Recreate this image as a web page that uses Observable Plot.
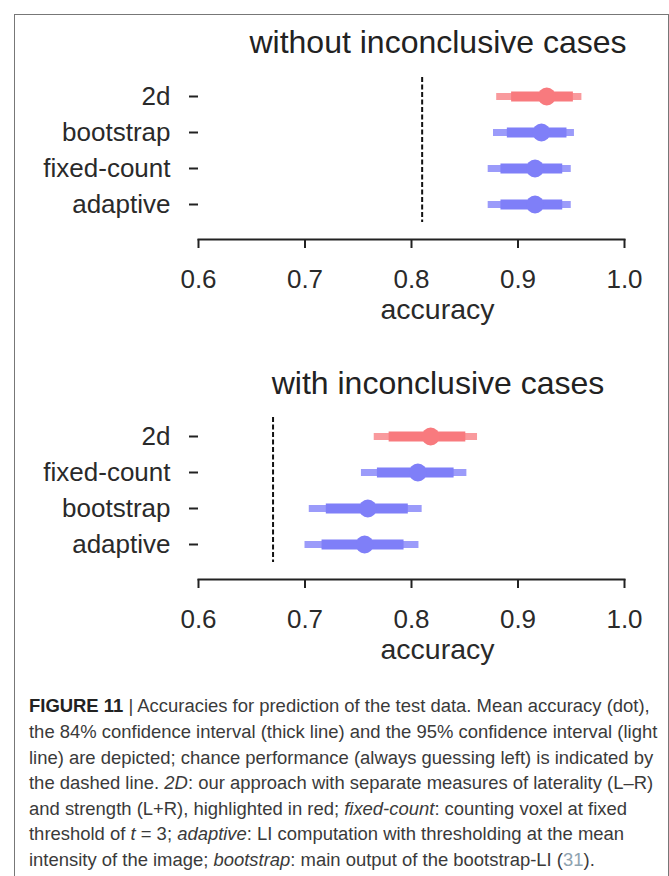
<!DOCTYPE html>
<html>
<head>
<meta charset="utf-8">
<script src="https://cdn.jsdelivr.net/npm/d3@7"></script>
<script src="https://cdn.jsdelivr.net/npm/@observablehq/plot@0.6"></script>
<style>
  html, body { margin: 0; padding: 0; background: #fff; }
  body { width: 669px; height: 876px; position: relative; overflow: hidden; font-family: "Liberation Sans", Arial, sans-serif; }
  #box { position: absolute; left: 14px; top: 14px; width: 655px; height: 900px; border: 1px solid #777; box-sizing: border-box; }
  .panel { position: absolute; left: 0; width: 669px; height: 340px; }
  .ptitle { position: absolute; left: 238px; width: 400px; text-align: center; font-size: 32px; color: #222; line-height: 1; white-space: nowrap; }
  .cap { position: absolute; left: 29px; white-space: nowrap; color: #3a3a3a; line-height: 1; }
  .cap b { color: #222; }
  .ref { color: #8fa3b0; }
</style>
</head>
<body>
<div id="box"></div>
<div class="panel" id="p1" style="top:0"></div>
<div class="panel" id="p2" style="top:340px"></div>
<div class="ptitle" style="top:26px">without inconclusive cases</div>
<div class="ptitle" style="top:367px">with inconclusive cases</div>
<div id="caption"></div>
<script>
// ---- data ----
const xTicks = [0.6, 0.7, 0.8, 0.9, 1.0];

// panel 1: without inconclusive cases
const rowsTop = ["2d", "bootstrap", "fixed-count", "adaptive"];
const meanTop = [0.927, 0.922, 0.916, 0.916];
const lo84Top = [0.894, 0.890, 0.884, 0.884];
const hi84Top = [0.952, 0.946, 0.942, 0.942];
const lo95Top = [0.880, 0.877, 0.872, 0.872];
const hi95Top = [0.960, 0.953, 0.950, 0.950];
const chanceTop = 0.81;

// panel 2: with inconclusive cases
const rowsBottom = ["2d", "fixed-count", "bootstrap", "adaptive"];
const meanBottom = [0.818, 0.806, 0.759, 0.756];
const lo84Bottom = [0.779, 0.768, 0.720, 0.716];
const hi84Bottom = [0.851, 0.840, 0.797, 0.793];
const lo95Bottom = [0.765, 0.753, 0.704, 0.700];
const hi95Bottom = [0.862, 0.852, 0.810, 0.807];
const chanceBottom = 0.67;

const highlight = "2d";
const strong = {hi: "#f87a7e", lo: "#7f7ff8"};
const light = {hi: "#f99a9d", lo: "#9b9bfa"};

function panel(rows, mean, lo84, hi84, lo95, hi95, chance) {
  const data = rows.map((name, i) => ({
    name, mean: mean[i], lo84: lo84[i], hi84: hi84[i], lo95: lo95[i], hi95: hi95[i],
    c: name === highlight ? strong.hi : strong.lo,
    l: name === highlight ? light.hi : light.lo
  }));
  return Plot.plot({
    width: 669,
    height: 340,
    marginTop: 77,
    marginBottom: 101,
    marginLeft: 198,
    marginRight: 45,
    style: {fontFamily: "'Liberation Sans', Arial, sans-serif", color: "#222", background: "transparent", overflow: "visible"},
    x: {domain: [0.6, 1.0]},
    y: {type: "band", domain: rows, padding: 0, insetBottom: 17},
    color: {type: "identity"},
    marks: [
      Plot.frame({anchor: "bottom", stroke: "#222", strokeWidth: 2}),
      Plot.axisX({ticks: xTicks, tickFormat: d3.format(".1f"), tickSize: 9, tickPadding: 21, fontSize: 26, strokeWidth: 2, fill: "#2a2a2a", label: null}),
      Plot.axisY({tickSize: 9, tickPadding: 19, fontSize: 26, strokeWidth: 2, fill: "#2a2a2a", label: null}),
      Plot.ruleX([chance], {stroke: "#111", strokeWidth: 2, strokeDasharray: "5,2.5", insetBottom: 17}),
      Plot.ruleY(data, {y: "name", x1: "lo95", x2: "hi95", stroke: "l", strokeWidth: 7}),
      Plot.ruleY(data, {y: "name", x1: "lo84", x2: "hi84", stroke: "c", strokeWidth: 10}),
      Plot.dot(data, {x: "mean", y: "name", r: 9, fill: "c", stroke: null}),
      Plot.text(["accuracy"], {text: d => d, frameAnchor: "bottom", lineAnchor: "middle", dy: 70, dx: 26, fontSize: 28.5, fill: "#2a2a2a"})
    ]
  });
}

document.getElementById("p1").appendChild(panel(rowsTop, meanTop, lo84Top, hi84Top, lo95Top, hi95Top, chanceTop));
document.getElementById("p2").appendChild(panel(rowsBottom, meanBottom, lo84Bottom, hi84Bottom, lo95Bottom, hi95Bottom, chanceBottom));

// ---- caption ----
const captionLines = [
  "<b>FIGURE 11</b> | Accuracies for prediction of the test data. Mean accuracy (dot),",
  "the 84% confidence interval (thick line) and the 95% confidence interval (light",
  "line) are depicted; chance performance (always guessing left) is indicated by",
  "the dashed line. <i>2D</i>: our approach with separate measures of laterality (L–R)",
  "and strength (L+R), highlighted in red; <i>fixed-count</i>: counting voxel at fixed",
  "threshold of <i>t</i> = 3; <i>adaptive</i>: LI computation with thresholding at the mean",
  "intensity of the image; <i>bootstrap</i>: main output of the bootstrap-LI (<span class=\"ref\">31</span>)."
];
const cap = document.getElementById("caption");
const spans = captionLines.map((html, i) => {
  const s = document.createElement("div");
  s.className = "cap";
  s.innerHTML = html;
  s.style.fontSize = "16px";
  cap.appendChild(s);
  return s;
});
const w0 = spans[0].getBoundingClientRect().width;
const fs = 16 * 621 / w0;
spans.forEach((s, i) => {
  s.style.fontSize = fs + "px";
  s.style.top = (714 + i * 25.6 - 0.905 * fs) + "px";
});
</script>
</body>
</html>
